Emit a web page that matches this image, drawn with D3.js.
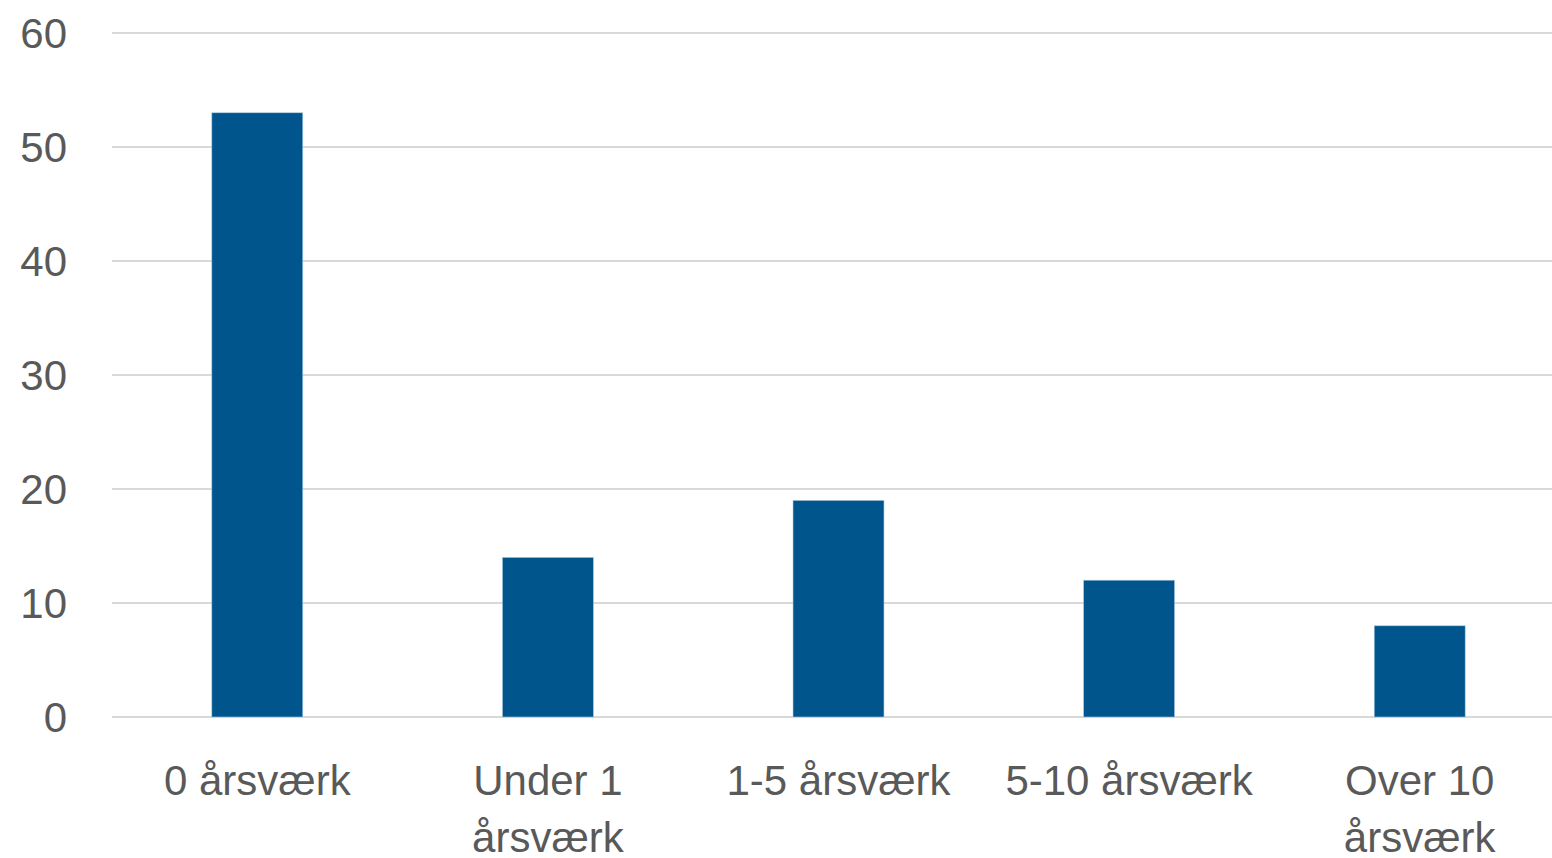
<!DOCTYPE html>
<html><head><meta charset="utf-8">
<script src="https://cdn.jsdelivr.net/npm/d3@7"></script>
<style>html,body{margin:0;padding:0;background:#fff;overflow:hidden}</style>
</head><body>
<svg id="chart" width="1552" height="858"></svg>
<script>
const categories = ["0 årsværk", "Under 1 årsværk", "1-5 årsværk", "5-10 årsværk", "Over 10 årsværk"];
const values = [53, 14, 19, 12, 8];
const yTicks = [0, 10, 20, 30, 40, 50, 60];

(function () {
const svg = d3.select("#chart");
const mLeft = 112, mRight = 1565, mTop = 33, mBottom = 717;
const font = "'Liberation Sans', Arial, sans-serif";
const textColor = "#595959";

const x = d3.scaleBand().domain(categories).range([mLeft, mRight]).padding(0);
const y = d3.scaleLinear().domain([0, 60]).range([mBottom, mTop]);
const barW = x.bandwidth() * 0.313;

// gridlines
svg.append("g").selectAll("line").data(yTicks).join("line")
  .attr("x1", mLeft).attr("x2", 1552)
  .attr("y1", d => y(d)).attr("y2", d => y(d))
  .attr("stroke", "#d9d9d9").attr("stroke-width", 2);

// y tick labels
svg.append("g").selectAll("text").data(yTicks).join("text")
  .attr("x", 67).attr("y", d => y(d))
  .attr("dy", "0.36em")
  .attr("text-anchor", "end")
  .attr("font-family", font).attr("font-size", 42).attr("fill", textColor)
  .text(d => d);

// bars
svg.append("g").selectAll("rect").data(values).join("rect")
  .attr("x", (d, i) => x(categories[i]) + x.bandwidth() / 2 - barW / 2)
  .attr("width", barW)
  .attr("y", d => y(d))
  .attr("height", d => y(0) - y(d))
  .attr("fill", "#00558c")
  .attr("stroke", "#a9c8e0").attr("stroke-width", 0.6);

// category labels with wrapping
const lab = svg.append("g");
categories.forEach(c => {
  const cx = x(c) + x.bandwidth() / 2;
  const t = lab.append("text")
    .attr("x", cx).attr("y", 795)
    .attr("text-anchor", "middle")
    .attr("font-family", font).attr("font-size", 42).attr("fill", textColor)
    .text(c);
  if (t.node().getComputedTextLength() > x.bandwidth() - 10) {
    const words = c.split(" ");
    const last = words.pop();
    t.text(null);
    t.append("tspan").attr("x", cx).attr("y", 795).text(words.join(" "));
    t.append("tspan").attr("x", cx).attr("y", 852).text(last);
  }
});
})();
</script>
</body></html>
